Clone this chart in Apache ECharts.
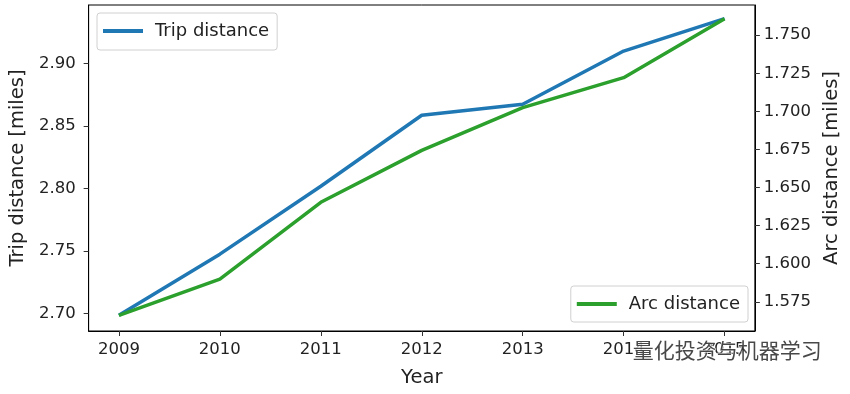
<!DOCTYPE html>
<html>
<head>
<meta charset="utf-8">
<script src="https://cdn.jsdelivr.net/npm/echarts@6/dist/echarts.min.js"></script>
<style>html,body{margin:0;padding:0;background:#fff}#c{width:850px;height:394px}</style>
</head>
<body>
<div id="c"></div>
<script>
const years = [2009, 2010, 2011, 2012, 2013, 2014, 2015];
const tripDistance = [2.6987, 2.7476, 2.8019, 2.8586, 2.8674, 2.9099, 2.9358];
const arcDistance = [1.5661, 1.5899, 1.6403, 1.6744, 1.7024, 1.7221, 1.7608];
const leftTicks = [2.70, 2.75, 2.80, 2.85, 2.90];
const rightTicks = [1.575, 1.600, 1.625, 1.650, 1.675, 1.700, 1.725, 1.750];

const FONT = 'DejaVu Sans';
const chart = echarts.init(document.getElementById('c'));
chart.setOption({
  animation: false,
  backgroundColor: '#fff',
  textStyle: { fontFamily: FONT },
  grid: { left: 88, right: 92, top: 5, bottom: 63, show: true, borderColor: '#000', borderWidth: 1, backgroundColor: 'transparent' },
  legend: [
    {
      data: ['Trip distance'], left: 97, top: 13, orient: 'vertical',
      icon: 'rect', itemWidth: 40, itemHeight: 4,
      padding: [9, 8, 10, 6], borderColor: '#d0d0d0', borderWidth: 1, borderRadius: 3,
      textStyle: { fontFamily: FONT, fontSize: 18, color: '#222', padding: [0, 0, 0, 7] }
    },
    {
      data: ['Arc distance'], right: 102, bottom: 72, orient: 'vertical',
      icon: 'rect', itemWidth: 40, itemHeight: 4,
      padding: [9, 8, 9, 6], borderColor: '#d0d0d0', borderWidth: 1, borderRadius: 3,
      textStyle: { fontFamily: FONT, fontSize: 18, color: '#222', padding: [0, 0, 0, 7] }
    }
  ],
  xAxis: {
    type: 'value', min: 2008.7, max: 2015.3,
    name: 'Year', nameLocation: 'middle', nameGap: 37,
    nameTextStyle: { fontFamily: FONT, fontSize: 19.5, color: '#222' },
    splitLine: { show: false },
    axisLine: { show: true, onZero: false, lineStyle: { color: '#000' } },
    axisTick: { show: true, length: 5, lineStyle: { color: '#333' }, customValues: years },
    axisLabel: { fontFamily: FONT, fontSize: 16.5, color: '#222', margin: 10, customValues: years, formatter: v => String(Math.round(v)) }
  },
  yAxis: [
    {
      type: 'value', min: 2.6862, max: 2.9467, position: 'left',
      name: 'Trip distance [miles]', nameLocation: 'middle', nameGap: 57,
      nameTextStyle: { fontFamily: FONT, fontSize: 19.5, color: '#222' },
      splitLine: { show: false },
      axisLine: { show: true, lineStyle: { color: '#000' } },
      axisTick: { show: true, length: 5, lineStyle: { color: '#333' }, customValues: leftTicks },
      axisLabel: { fontFamily: FONT, fontSize: 16.5, color: '#222', margin: 13, customValues: leftTicks, formatter: v => v.toFixed(2) }
    },
    {
      type: 'value', min: 1.5558, max: 1.7698, position: 'right',
      name: 'Arc distance [miles]', nameLocation: 'middle', nameGap: 64,
      nameTextStyle: { fontFamily: FONT, fontSize: 19.5, color: '#222' },
      splitLine: { show: false },
      axisLine: { show: true, lineStyle: { color: '#000' } },
      axisTick: { show: true, length: 5, lineStyle: { color: '#333' }, customValues: rightTicks },
      axisLabel: { fontFamily: FONT, fontSize: 16.5, color: '#222', margin: 9, customValues: rightTicks, formatter: v => v.toFixed(3) }
    }
  ],
  series: [
    {
      name: 'Trip distance', type: 'line', yAxisIndex: 0,
      data: years.map((y, i) => [y, tripDistance[i]]),
      symbol: 'none', lineStyle: { color: '#1f77b4', width: 3.5 }, itemStyle: { color: '#1f77b4' }, z: 2
    },
    {
      name: 'Arc distance', type: 'line', yAxisIndex: 1,
      data: years.map((y, i) => [y, arcDistance[i]]),
      symbol: 'none', lineStyle: { color: '#2ca02c', width: 3.5 }, itemStyle: { color: '#2ca02c' }, z: 3
    }
  ],
  graphic: [
    {
      type: 'text', left: 632, top: 339, z: 100,
      style: { text: '量化投资与机器学习', fontFamily: 'Noto Sans CJK SC', fontSize: 21, fill: 'rgba(40,40,40,0.85)', stroke: 'rgba(255,255,255,0.8)', lineWidth: 1.5 }
    }
  ]
});
</script>
</body>
</html>
